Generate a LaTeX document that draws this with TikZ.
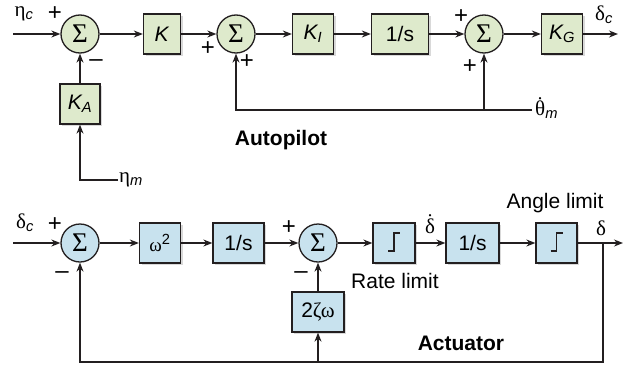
\documentclass[tikz,border=0pt]{standalone}
\usepackage{fontspec}
\setmainfont{Liberation Sans}
\newfontfamily\grk{Liberation Serif}
\usetikzlibrary{arrows.meta,shadows}
\definecolor{apgreen}{RGB}{222,234,204}
\definecolor{acblue}{RGB}{200,226,238}
\definecolor{ink}{RGB}{35,31,32}
\begin{document}
\begin{tikzpicture}[x=1pt, y=-1pt, font=\fontsize{21}{24}\selectfont]
        \tikzstyle{block}=[draw=ink, line width=1.3pt, minimum height=40pt, inner sep=0pt, drop shadow={opacity=0.3, shadow xshift=2pt, shadow yshift=-2pt}]
        \tikzstyle{sumnode}=[circle, draw=ink, line width=1.3pt, minimum size=38pt, inner sep=0pt, font=\grk\fontsize{27}{28}\selectfont]
        \tikzstyle{signal}=[draw=ink, line width=1.3pt, -{Stealth[length=9pt,width=7pt]}]
        \tikzstyle{sign}=[font=\fontsize{24}{24}\selectfont, inner sep=0pt]
        \tikzstyle{title}=[font=\bfseries\fontsize{21}{24}\selectfont]
        \useasboundingbox (0,0) rectangle (631,364);
        % Autopilot
        \coordinate (apin) at (13,34);
        \node[sumnode, fill=apgreen] (apsumA) at (80,34) {Σ};
        \node[block, fill=apgreen, minimum width=37pt] (apK) at (162,34) {\textit{K}};
        \node[sumnode, fill=apgreen] (apsumB) at (236,34) {Σ};
        \node[block, fill=apgreen, minimum width=41pt] (apKI) at (313,34) {\textit{K\textsubscript{I}}};
        \node[block, fill=apgreen, minimum width=57pt] (apint) at (400,34) {1/s};
        \node[sumnode, fill=apgreen] (apsumC) at (484,34) {Σ};
        \node[block, fill=apgreen, minimum width=41pt] (apKG) at (562,34) {\textit{K\textsubscript{G}}};
        \coordinate (apout) at (618,34);
        \node[block, fill=apgreen, minimum width=40pt] (apKA) at (80,104) {\textit{K\textsubscript{A}}};
        \coordinate (etam) at (118,180);
        \coordinate (thm) at (532,110);
        \draw[signal] (apin) -- (apsumA);
        \draw[signal] (apsumA) -- (apK);
        \draw[signal] (apK) -- (apsumB);
        \draw[signal] (apsumB) -- (apKI);
        \draw[signal] (apKI) -- (apint);
        \draw[signal] (apint) -- (apsumC);
        \draw[signal] (apsumC) -- (apKG);
        \draw[signal] (apKG) -- (apout);
        \draw[signal] (apKA) -- (apsumA);
        \draw[signal] (etam) -| (apKA);
        \draw[signal] (thm) -| (apsumB);
        \draw[signal] (thm -| apsumC) -- (apsumC);
        \node (etaclabel) at (24,14) {{\grk η}\textsubscript{\textit{c}}};
        \node[anchor=west, inner sep=1pt] (etamlabel) at (etam) {{\grk η}\textsubscript{\textit{m}}};
        \node[anchor=west, inner sep=3pt] (thmlabel) at (thm) {{\grk\ooalign{θ\cr\hidewidth\raisebox{0.22em}{\char"02D9}\hidewidth\cr}}\textsubscript{\textit{m}}};
        \node (dclabel) at (604,15) {{\grk δ}\textsubscript{\textit{c}}};
        \node[sign] (apsignA) at (55,14) {+};
        \node[sign] (apsignB) at (96,63) {–};
        \node[sign] (apsignC) at (208,49) {+};
        \node[sign] (apsignD) at (247,62) {+};
        \node[sign] (apsignE) at (461,17) {+};
        \node[sign] (apsignF) at (470,67) {+};
        \node[title] (aptitle) at (281,140) {Autopilot};
        % Actuator
        \coordinate (acin) at (13,243);
        \node[sumnode, fill=acblue] (acsumA) at (80,243) {Σ};
        \node[block, fill=acblue, minimum width=41pt] (acW) at (160,243) {{\grk\fontsize{19}{20}\selectfont ω}\textsuperscript{2}};
        \node[block, fill=acblue, minimum width=51pt] (acintA) at (238.5,243) {1/s};
        \node[sumnode, fill=acblue] (acsumB) at (318,243) {Σ};
        \node[block, fill=acblue, minimum width=42pt] (acRL) at (394,243) {};
        \node[block, fill=acblue, minimum width=53pt] (acintB) at (472.5,243) {1/s};
        \node[block, fill=acblue, minimum width=41pt] (acAL) at (556.5,243) {};
        \node[block, fill=acblue, minimum width=52pt] (acZW) at (318,312) {2{\grk ζω}};
        \coordinate (acbranch) at (603,243);
        \coordinate (acout) at (623,243);
        \coordinate (acfb) at (603,362);
        \draw[signal] (acin) -- (acsumA);
        \draw[signal] (acsumA) -- (acW);
        \draw[signal] (acW) -- (acintA);
        \draw[signal] (acintA) -- (acsumB);
        \draw[signal] (acsumB) -- (acRL);
        \draw[signal] (acRL) -- (acintB);
        \draw[signal] (acintB) -- (acAL);
        \draw[signal] (acAL) -- (acout);
        \draw[signal] (acbranch) -- (acfb) -| (acsumA);
        \draw[signal] (acfb -| acZW) -- (acZW);
        \draw[signal] (acZW) -- (acsumB);
        \foreach \lim in {acRL, acAL}
            \draw[ink, line width=1.3pt] ([shift={(-6,8)}]\lim.center) -- ++(6,0) -- ++(0,-18) -- ++(6,0);
        \node (dcinlabel) at (25,223) {{\grk δ}\textsubscript{\textit{c}}};
        \node (ddotlabel) at (430,226) {{\grk\ooalign{δ\cr\hidewidth\raisebox{0.22em}{\char"02D9}\hidewidth\cr}}};
        \node (dlabel) at (601,228) {{\grk δ}};
        \node[sign] (acsignA) at (55,225) {+};
        \node[sign] (acsignB) at (62,275) {–};
        \node[sign] (acsignC) at (289,228) {+};
        \node[sign] (acsignD) at (301,275) {–};
        \node (rllabel) at (395,281) {Rate limit};
        \node (allabel) at (555,203) {Angle limit};
        \node[title] (actitle) at (461,343) {Actuator};
\end{tikzpicture}
\end{document}
